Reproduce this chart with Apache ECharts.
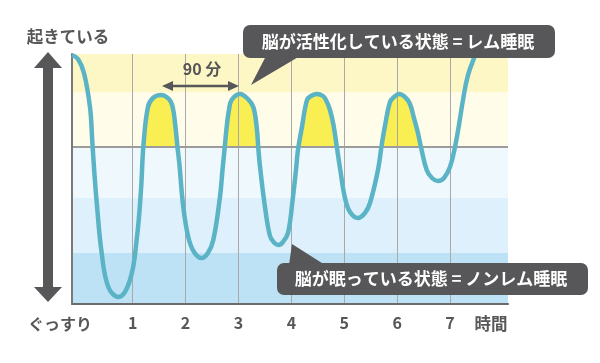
<!DOCTYPE html>
<html>
<head>
<meta charset="utf-8">
<script src="https://cdn.jsdelivr.net/npm/echarts@6/dist/echarts.min.js"></script>
<style>
html,body{margin:0;padding:0;background:#fff;}
#chart{width:600px;height:363px;}
</style>
</head>
<body>
<div id="chart"></div>
<script>
// ---- data ----
// time since falling asleep (hours) and sleep level (0 = deep sleep, higher = lighter / awake)
const sleepHours = [
  -0.147, -0.034, 0.079, 0.193, 0.235, 0.272, 0.321, 0.414, 0.539, 0.728,
  0.949, 1.081, 1.157, 1.204, 1.289, 1.384, 1.535,
  1.686, 1.756, 1.809, 1.847, 1.881, 1.957, 2.051, 2.159, 2.304,
  2.423, 2.524, 2.650, 2.698, 2.735, 2.777, 2.820, 2.871, 3.028,
  3.180, 3.280, 3.344, 3.378, 3.406, 3.501, 3.596, 3.671, 3.752,
  3.841, 3.936, 4.030, 4.087, 4.125, 4.200, 4.295, 4.371, 4.484,
  4.597, 4.654, 4.730, 4.796, 4.862, 4.919, 5.013, 5.108, 5.259,
  5.391, 5.486, 5.637, 5.713, 5.769, 5.864, 5.940, 6.034,
  6.148, 6.242, 6.318, 6.393, 6.450, 6.558, 6.658, 6.771,
  6.885, 6.998, 7.093, 7.168, 7.244, 7.339, 7.509, 7.603];
const sleepLevel = [
  4.701, 4.625, 4.361, 3.719, 3.096, 2.530, 1.907, 0.963, 0.321, 0.132,
  0.453, 1.265, 2.152, 3.002, 3.719, 3.889, 3.946,
  3.870, 3.719, 3.342, 2.964, 2.662, 1.831, 1.265, 0.982, 0.868,
  0.963, 1.208, 2.020, 2.530, 2.907, 3.342, 3.663, 3.851, 3.965,
  3.870, 3.719, 3.342, 2.907, 2.605, 1.831, 1.284, 1.161, 1.114,
  1.171, 1.340, 2.020, 2.530, 2.907, 3.342, 3.851, 3.927, 3.965,
  3.927, 3.851, 3.663, 3.379, 2.945, 2.568, 2.001, 1.737, 1.624,
  1.718, 1.907, 2.530, 3.040, 3.360, 3.814, 3.908, 3.965,
  3.908, 3.776, 3.511, 3.228, 2.964, 2.530, 2.379, 2.322,
  2.379, 2.586, 2.964, 3.379, 3.851, 4.323, 4.795, 5.135];
// REM part of the night: from the first deep trough to the last trough (indices into the arrays)
const remFirstIndex = 9;
const remLastIndex = 77;

const hourTicks = [1, 2, 3, 4, 5, 6, 7];
const hourTickLabels = ['1', '2', '3', '4', '5', '6', '7'];
const xMin = -0.147, xMax = 8.095;
// sleep-depth bands (upper level of each band) and their colours
const bandTops = [4.72, 4.0, 2.964, 2.0, 0.963];
const bandColors = ['#fdf7c6', '#fffde9', '#eef8fd', '#ddf0fb', '#bde2f6'];
const remLine = 2.964;
const yMax = 4.72;

const topLabel = '起きている';
const bottomLabel = 'ぐっすり';
const unitLabel = '時間';
const cycleLabel = '90 分';
const remText = '脳が活性化している状態 = レム睡眠';
const nremText = '脳が眠っている状態 = ノンレム睡眠';

// ---- chart ----
const FONT = "'Noto Sans CJK JP', 'Noto Sans', sans-serif";
const DARK = '#575658';
const SMOOTH = 0.4;
const curve = sleepHours.map((h, i) => [h, sleepLevel[i]]);
const remCurve = curve.slice(remFirstIndex, remLastIndex + 1);

const series = [];
bandTops.forEach((top, i) => {
  series.push({
    type: 'line', silent: true, symbol: 'none',
    z: i < 2 ? 1 : 3,
    data: [[xMin, top], [xMax, top]],
    lineStyle: { width: 0 },
    areaStyle: { color: bandColors[i], opacity: 1, origin: 'start' }
  });
  if (i === 1) {
    series.push({
      type: 'line', silent: true, symbol: 'none', smooth: SMOOTH, z: 2,
      data: remCurve,
      lineStyle: { width: 0 },
      areaStyle: { color: '#f9ee52', opacity: 1, origin: 'start' }
    });
  }
});
series.push({
  type: 'line', silent: true, symbol: 'none', smooth: SMOOTH, z: 6,
  data: curve,
  lineStyle: { width: 4.5, color: '#5bb4c6' },
  markLine: {
    silent: true, symbol: 'none', z: 4,
    label: { show: false },
    data: hourTicks.map(v => ({ xAxis: v, lineStyle: { color: '#a9a9a9', width: 1, type: 'solid' } }))
      .concat([{ yAxis: remLine, lineStyle: { color: '#9c9c9c', width: 2, type: 'solid' } }])
  }
});

const textStyle = (text, fill, size) => ({
  text: text, fill: fill, font: 'bold ' + size + 'px ' + FONT,
  textAlign: 'center', textVerticalAlign: 'middle', align: 'center', verticalAlign: 'middle'
});

const chart = echarts.init(document.getElementById('chart'), null, { renderer: 'canvas' });
chart.setOption({
  animation: false,
  backgroundColor: '#ffffff',
  grid: { left: 72, top: 54, right: 92, bottom: 59 },
  xAxis: {
    type: 'value', min: xMin, max: xMax, z: 5,
    axisLine: { show: true, onZero: false, lineStyle: { color: '#6b6b6b', width: 2 } },
    axisTick: { show: false },
    splitLine: { show: false },
    axisLabel: {
      customValues: hourTicks,
      formatter: v => hourTickLabels[hourTicks.indexOf(v)] || '',
      color: DARK, fontSize: 16, fontWeight: 'bold', fontFamily: FONT, margin: 11
    }
  },
  yAxis: {
    type: 'value', min: 0, max: yMax, z: 5,
    axisLine: { show: true, onZero: false, lineStyle: { color: '#7a7a7a', width: 2 } },
    axisTick: { show: false }, axisLabel: { show: false }, splitLine: { show: false }
  },
  series: series,
  graphic: [
    // vertical double arrow
    { type: 'polygon', z: 10, silent: true,
      shape: { points: [[48, 52], [62, 68], [53, 68], [53, 287], [62, 287], [48, 302], [34, 287], [43, 287], [43, 68], [34, 68]] },
      style: { fill: DARK } },
    { type: 'text', z: 10, silent: true, x: 68, y: 37, style: textStyle(topLabel, DARK, 16.5) },
    { type: 'text', z: 10, silent: true, x: 60, y: 324, style: textStyle(bottomLabel, DARK, 16) },
    { type: 'text', z: 10, silent: true, x: 491, y: 324, style: textStyle(unitLabel, DARK, 16.5) },
    // 90 min arrow
    { type: 'line', z: 10, silent: true, shape: { x1: 170, y1: 86, x2: 231, y2: 86 }, style: { stroke: DARK, lineWidth: 2.5 } },
    { type: 'polygon', z: 10, silent: true, shape: { points: [[162, 86], [173, 81], [173, 91]] }, style: { fill: DARK } },
    { type: 'polygon', z: 10, silent: true, shape: { points: [[239, 86], [228, 81], [228, 91]] }, style: { fill: DARK } },
    { type: 'text', z: 10, silent: true, x: 202, y: 69, style: textStyle(cycleLabel, DARK, 16) },
    // REM callout
    { type: 'polygon', z: 10, silent: true, shape: { points: [[251, 85], [266, 56], [300, 56]] }, style: { fill: DARK } },
    { type: 'rect', z: 10, silent: true, shape: { x: 243, y: 25, width: 312, height: 33, r: 7 }, style: { fill: DARK } },
    { type: 'text', z: 11, silent: true, x: 398, y: 42, style: textStyle(remText, '#ffffff', 17) },
    // NREM callout
    { type: 'polygon', z: 10, silent: true, shape: { points: [[292, 244], [289, 265], [325, 265]] }, style: { fill: DARK } },
    { type: 'rect', z: 10, silent: true, shape: { x: 277, y: 263, width: 311, height: 32, r: 7 }, style: { fill: DARK } },
    { type: 'text', z: 11, silent: true, x: 431, y: 279, style: textStyle(nremText, '#ffffff', 17) }
  ]
});
</script>
</body>
</html>
